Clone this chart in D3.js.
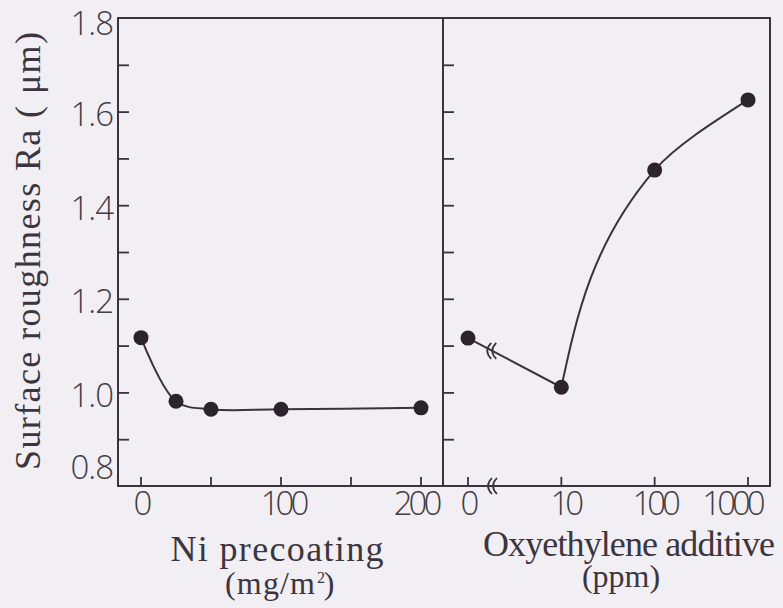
<!DOCTYPE html>
<html>
<head>
<meta charset="utf-8">
<script src="https://cdn.jsdelivr.net/npm/d3@7"></script>
<style>
  body { margin: 0; background: #f1eff3; }
  svg { display: block; }
</style>
</head>
<body>
<script>
// data
var yMajor = [0.8, 1.0, 1.2, 1.4, 1.6, 1.8];
var yMinor = [0.9, 1.0, 1.1, 1.2, 1.3, 1.4, 1.5, 1.6, 1.7];

var niTicks = [0, 50, 100, 150, 200];
var niLabels = [0, 100, 200];
var niX = [0, 25, 50, 100, 200];
var niY = [1.117, 0.981, 0.964, 0.964, 0.967];

var oxTicks = [0, 10, 100, 1000];
var oxX = [0, 10, 100, 1000];
var oxY = [1.116, 1.011, 1.475, 1.625];

var ink = '#3a323c';
var W = 783, H = 608;

var svg = d3.select('body').append('svg')
    .attr('width', W).attr('height', H);

// plot box
var pLeft = 118, pMid = 443, pRight = 770, pTop = 18, pBottom = 486;

var y = d3.scaleLinear().domain([0.8, 1.8]).range([pBottom, pTop]);
var xNi = d3.scaleLinear().domain([0, 200]).range([141, 421]);
// broken log axis: "0" sits one decade left of 10
var xOxLog = d3.scaleLog().domain([1, 1000]).range([468, 748]);
function xOx(v) { return v === 0 ? xOxLog(1) : xOxLog(v); }

// frames
svg.append('rect')
    .attr('x', pLeft).attr('y', pTop)
    .attr('width', pRight - pLeft).attr('height', pBottom - pTop)
    .attr('fill', 'none').attr('stroke', ink).attr('stroke-width', 2);
svg.append('line')
    .attr('x1', pMid).attr('x2', pMid).attr('y1', pTop).attr('y2', pBottom)
    .attr('stroke', ink).attr('stroke-width', 2);

// y ticks on left axis and on the divider (pointing right)
[pLeft, pMid].forEach(function(xx) {
    svg.append('g')
        .attr('transform', 'translate(' + xx + ',0)')
        .call(d3.axisLeft(y).tickValues(yMinor).tickSize(-11).tickSizeOuter(0).tickFormat(''))
        .call(function(g) {
            g.select('.domain').remove();
            g.selectAll('line').attr('stroke', ink).attr('stroke-width', 1.8);
        });
});

// y labels
svg.append('g')
    .attr('transform', 'translate(' + (pLeft - 5) + ',0)')
    .call(d3.axisLeft(y).tickValues(yMajor).tickSize(0).tickPadding(0).tickFormat(d3.format('.1f')))
    .call(function(g) {
        g.select('.domain').remove();
        g.selectAll('text')
            .attr('fill', '#423c44')
            .attr('font-family', 'Open Sans, Liberation Sans, sans-serif')
            .attr('font-weight', 300)
            .attr('font-size', 33)
            .attr('letter-spacing', -1)
            .attr('dy', function(d) { return d === 0.8 ? '-0.22em' : d === 1.8 ? '0.5em' : '0.42em'; });
    });

// x axis ticks (pointing up)
function xTicks(scale, vals, labels, shift) {
    var g = svg.append('g').attr('transform', 'translate(0,' + pBottom + ')');
    g.selectAll('line').data(vals).enter().append('line')
        .attr('x1', scale).attr('x2', scale)
        .attr('y1', 0).attr('y2', -9)
        .attr('stroke', ink).attr('stroke-width', 1.8);
    g.selectAll('text').data(labels).enter().append('text')
        .attr('x', function(d) { return scale(d) + (shift[d] || 0); })
        .attr('y', 29)
        .attr('text-anchor', 'middle')
        .attr('fill', '#423c44')
        .attr('font-family', 'Open Sans, Liberation Sans, sans-serif')
        .attr('font-weight', 300)
        .attr('font-size', 33)
        .attr('letter-spacing', -4)
        .text(function(d) { return d; });
}
xTicks(xNi, niTicks, niLabels, {100: 2, 200: -5});
xTicks(xOx, oxTicks, oxTicks, {10: 4, 1000: -16});

// axis break marks "(("
function breakMark(cx, cy) {
    [0, 5].forEach(function(o) {
        svg.append('path')
            .attr('d', 'M' + (cx + o + 4) + ',' + (cy - 8) + ' Q' + (cx + o - 4) + ',' + cy + ' ' + (cx + o + 4) + ',' + (cy + 8))
            .attr('fill', 'none').attr('stroke', ink).attr('stroke-width', 1.7);
    });
}
breakMark(488, pBottom);

// Ni precoating series
var niData = niX.map(function(d, i) { return [xNi(d), y(niY[i])]; });
svg.append('path')
    .attr('d', d3.line().curve(d3.curveCatmullRom.alpha(0.5))(niData))
    .attr('fill', 'none').attr('stroke', ink).attr('stroke-width', 2);

// Oxyethylene series: straight across the break, smooth curve after 10 ppm
var oxData = oxX.map(function(d, i) { return [xOx(d), y(oxY[i])]; });
svg.append('path')
    .attr('d', d3.line()(oxData.slice(0, 2)))
    .attr('fill', 'none').attr('stroke', ink).attr('stroke-width', 2);
svg.append('path')
    .attr('d', d3.line().curve(d3.curveMonotoneY)(oxData.slice(1)))
    .attr('fill', 'none').attr('stroke', ink).attr('stroke-width', 2);

var bx = oxData[0][0] + 0.26 * (oxData[1][0] - oxData[0][0]);
var by = oxData[0][1] + 0.26 * (oxData[1][1] - oxData[0][1]);
breakMark(bx - 5, by);

// markers
svg.selectAll('circle.pt')
    .data(niData.concat(oxData))
    .enter().append('circle')
    .attr('class', 'pt')
    .attr('cx', function(d) { return d[0]; })
    .attr('cy', function(d) { return d[1]; })
    .attr('r', 7.5)
    .attr('fill', '#2b242d');

// titles
var titleFont = 'Liberation Serif, DejaVu Serif, serif';
function title(txt, x, yy, len, size, rotate) {
    var t = svg.append('text')
        .attr('font-family', titleFont)
        .attr('font-size', size)
        .attr('fill', '#3c3540')
        .attr('text-anchor', 'middle')
        .text(txt);
    if (len) t.attr('textLength', len).attr('lengthAdjust', 'spacing');
    if (rotate) {
        t.attr('transform', 'translate(' + x + ',' + yy + ') rotate(-90)');
    } else {
        t.attr('x', x).attr('y', yy);
    }
    return t;
}
title('Surface roughness Ra ( \u03bcm)', 40, 251, 438, 36, true);
title('Ni precoating', 277, 561, 213, 36);
title('Oxyethylene additive', 629, 556, 292, 36);
title('(ppm)', 621, 587, null, 32);
title('(mg/m', 270, 594, 90, 32);
svg.append('text')
    .attr('x', 321).attr('y', 583)
    .attr('font-family', titleFont)
    .attr('font-size', 16)
    .attr('fill', '#3c3540')
    .attr('text-anchor', 'middle')
    .text('2');
svg.append('text')
    .attr('x', 329).attr('y', 594)
    .attr('font-family', titleFont)
    .attr('font-size', 32)
    .attr('fill', '#3c3540')
    .attr('text-anchor', 'middle')
    .text(')');
</script>
</body>
</html>
